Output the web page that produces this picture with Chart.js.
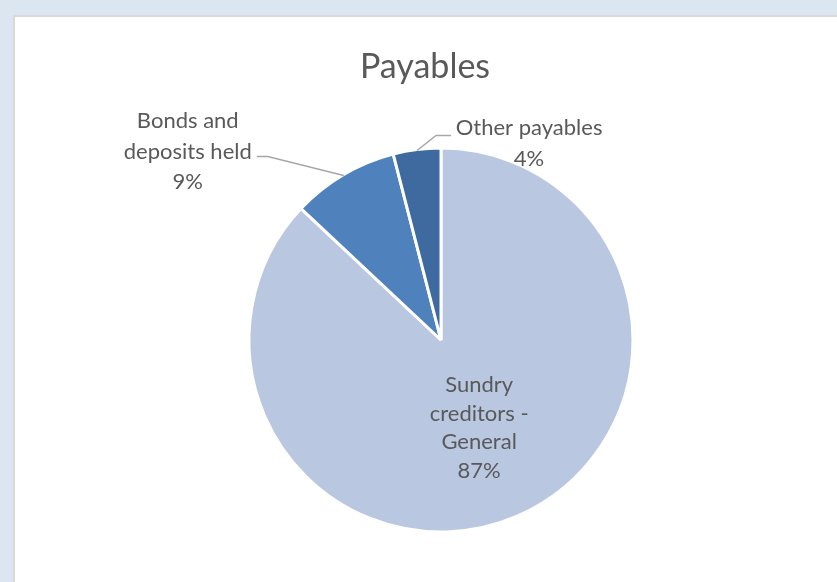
<!DOCTYPE html>
<html>
<head>
<meta charset="utf-8">
<script src="https://cdn.jsdelivr.net/npm/chart.js@4/dist/chart.umd.min.js"></script>
<style>
  html, body { margin: 0; padding: 0; }
  body { width: 837px; height: 582px; background: #dce6f1; position: relative; overflow: hidden; }
  #card { position: absolute; left: 13px; top: 15px; width: 840px; height: 600px; background: #fff; border: 2px solid #d9d9d9; box-sizing: border-box; }
  #wrap { position: absolute; left: 0; top: 0; width: 837px; height: 582px; }
</style>
</head>
<body>
<div id="card"></div>
<div id="wrap"><canvas id="chart"></canvas></div>
<script>
const categories = ["Sundry creditors - General", "Bonds and deposits held", "Other payables"];
const shares = [87, 9, 4];
const labelLines = [
  ["Sundry", "creditors -", "General", "87%"],
  ["Bonds and", "deposits held", "9%"],
  ["Other payables", "4%"]
];
const sliceColors = ["#b9c7e1", "#4f81bd", "#3e6a9f"];

const textColor = "#595959";
const fontFamily = "Lato, 'Open Sans', sans-serif";

// labels: inside for the big slice, leader lines for the small ones
const labelPlugin = {
  id: "pieLabels",
  afterDraw(chart) {
    const ctx = chart.ctx;
    const arcs = chart.getDatasetMeta(0).data;
    ctx.save();
    ctx.fillStyle = textColor;
    ctx.textBaseline = "middle";

    // title
    ctx.font = "34px " + fontFamily;
    ctx.textAlign = "center";
    ctx.fillText("Payables", 425, 67);

    ctx.font = "22px " + fontFamily;
    arcs.forEach(function (arc, i) {
      const p = arc.getProps(["x", "y", "startAngle", "endAngle", "outerRadius"], true);
      const mid = (p.startAngle + p.endAngle) / 2;
      const lines = labelLines[i];
      if (i === 0) {
        const r = p.outerRadius * 0.50;
        const cx = p.x + Math.cos(mid) * r;
        const cy = p.y + Math.sin(mid) * r;
        const lh = 28.5;
        const y0 = cy - lh * (lines.length - 1) / 2;
        ctx.textAlign = "center";
        lines.forEach(function (t, k) { ctx.fillText(t, cx, y0 + k * lh); });
        return;
      }
      const ax = p.x + Math.cos(mid) * (p.outerRadius - 1);
      const ay = p.y + Math.sin(mid) * (p.outerRadius - 1);
      ctx.strokeStyle = "#a6a6a6";
      ctx.lineWidth = 1.5;
      ctx.beginPath();
      if (i === 1) {
        const ex = ax - 76, ey = ay - 19;
        ctx.moveTo(ax, ay); ctx.lineTo(ex, ey); ctx.lineTo(ex - 11, ey);
        ctx.stroke();
        const cx = ex - 80, lh = 30.5;
        ctx.textAlign = "center";
        lines.forEach(function (t, k) { ctx.fillText(t, cx, ey - 5 - lh + k * lh); });
      } else {
        const ex = ax + 19, ey = ay - 15;
        ctx.moveTo(ax, ay); ctx.lineTo(ex, ey); ctx.lineTo(ex + 15, ey);
        ctx.stroke();
        const cx = ex + 93, lh = 31;
        ctx.textAlign = "center";
        lines.forEach(function (t, k) { ctx.fillText(t, cx, ey - 8 + k * lh); });
      }
    });
    ctx.restore();
  }
};

new Chart(document.getElementById("chart"), {
  type: "pie",
  data: {
    labels: categories,
    datasets: [{
      data: shares,
      backgroundColor: sliceColors,
      borderColor: "#ffffff",
      borderWidth: 3
    }]
  },
  options: {
    responsive: true,
    maintainAspectRatio: false,
    animation: false,
    layout: { padding: { top: 146.5, bottom: 48.5, left: 141, right: 96 } },
    plugins: {
      legend: { display: false },
      title: { display: false },
      tooltip: { enabled: false }
    }
  },
  plugins: [labelPlugin]
});
</script>
</body>
</html>
